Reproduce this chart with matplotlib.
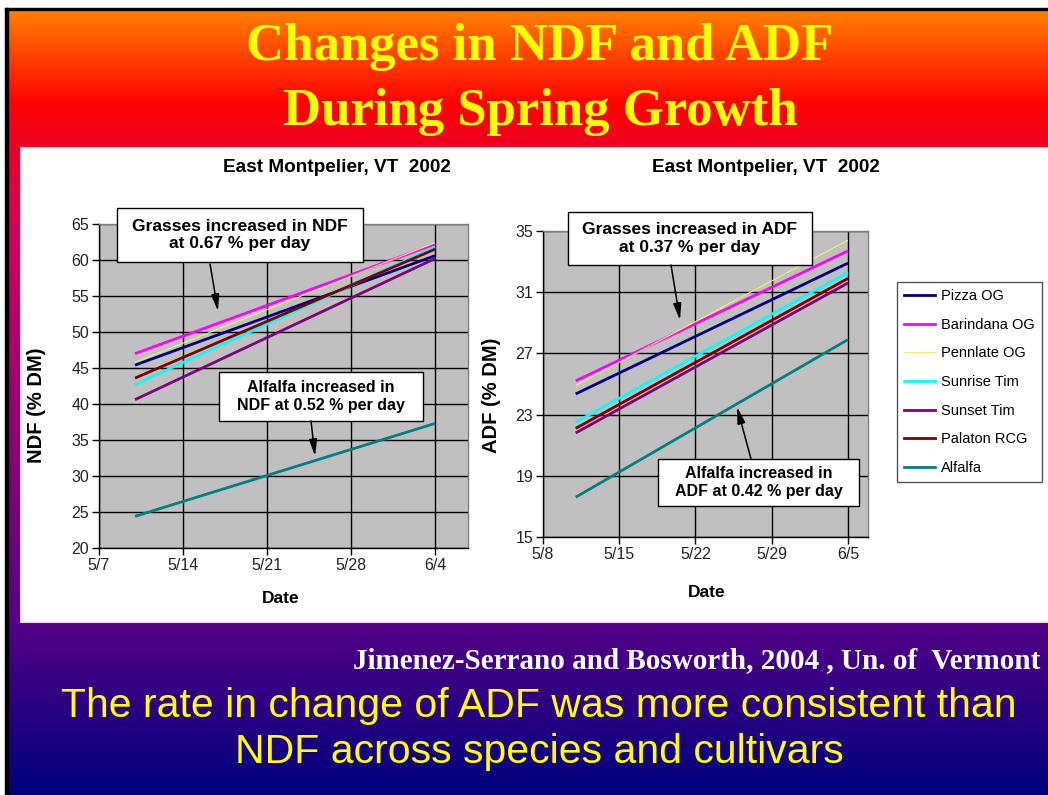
import datetime as dt

import numpy as np
import matplotlib
matplotlib.use("Agg")
import matplotlib.pyplot as plt
import matplotlib.dates as mdates
from matplotlib.patches import Rectangle
from matplotlib.lines import Line2D

# ---------------------------------------------------------------- data
series_names = ["Pizza OG", "Barindana OG", "Pennlate OG", "Sunrise Tim",
                "Sunset Tim", "Palaton RCG", "Alfalfa"]
series_colors = ["#000080", "#ff00ff", "#f2f266", "#00ffff",
                 "#800080", "#800000", "#008080"]
series_widths = [2.0, 2.0, 0.8, 2.0, 2.0, 2.0, 2.0]

# NDF (% DM), regression lines over the spring sampling period
ndf_dates = ["2002-05-10", "2002-06-04"]
ndf_start = [45.4, 47.0, 45.8, 42.7, 40.6, 43.6, 24.4]
ndf_end = [60.6, 62.2, 62.4, 61.8, 60.2, 61.5, 37.3]

# ADF (% DM)
adf_dates = ["2002-05-11", "2002-06-05"]
adf_start = [24.35, 25.2, 24.9, 22.5, 21.8, 22.1, 17.6]
adf_end = [32.9, 33.7, 34.4, 32.3, 31.6, 31.9, 27.9]

ndf_ticks = ["2002-05-07", "2002-05-14", "2002-05-21", "2002-05-28", "2002-06-04"]
ndf_tick_labels = ["5/7", "5/14", "5/21", "5/28", "6/4"]
adf_ticks = ["2002-05-08", "2002-05-15", "2002-05-22", "2002-05-29", "2002-06-05"]
adf_tick_labels = ["5/8", "5/15", "5/22", "5/29", "6/5"]
ndf_yticks = [20, 25, 30, 35, 40, 45, 50, 55, 60, 65]
adf_yticks = [15, 19, 23, 27, 31, 35]

# ---------------------------------------------------------------- helpers
W, H = 1048, 795
SANS = "Liberation Sans"
SERIF = "Liberation Serif"


def fx(x):
    return x / W


def fy(y):
    return 1 - y / H


def dnum(s):
    return mdates.date2num(dt.datetime.strptime(s, "%Y-%m-%d"))


fig = plt.figure(figsize=(W / 100, H / 100), dpi=100)

# ---------------------------------------------------------------- slide background
bg = fig.add_axes([0, 0, 1, 1], zorder=0)
stops_y = [10, 60, 100, 150, 240, 620, 795]
stops_c = [(255, 128, 0), (255, 60, 0), (255, 5, 0), (236, 0, 38),
           (205, 0, 95), (85, 0, 135), (0, 0, 125)]
ys = np.arange(10, 796)
grad = np.zeros((len(ys), 1, 3))
for c in range(3):
    grad[:, 0, c] = np.interp(ys, stops_y, [s[c] for s in stops_c]) / 255
bg.imshow(grad, extent=[8, W, 795, 10], aspect="auto", interpolation="bilinear")
bg.add_patch(Rectangle((5, 8), 3, 787, color="black"))
bg.add_patch(Rectangle((5, 8), W - 5, 2, color="black"))
bg.add_patch(Rectangle((20, 147), W - 20, 475, facecolor="white", edgecolor="#e8c8e8", lw=0.8))
bg.set_xlim(0, W)
bg.set_ylim(H, 0)
bg.axis("off")

fig.text(fx(540), fy(47), "Changes in NDF and ADF", ha="center", va="center",
         family=SERIF, weight="bold", fontsize=38, color="#ffff00")
fig.text(fx(540), fy(112), "During Spring Growth", ha="center", va="center",
         family=SERIF, weight="bold", fontsize=38, color="#ffff00")
fig.text(fx(1040), fy(661), "Jimenez-Serrano and Bosworth, 2004 , Un. of  Vermont",
         ha="right", va="center", family=SERIF, weight="bold", fontsize=21, color="white")
fig.text(fx(539), fy(706), "The rate in change of ADF was more consistent than",
         ha="center", va="center", family=SANS, fontsize=29.5, color="#ffff00")
fig.text(fx(539), fy(752), "NDF across species and cultivars",
         ha="center", va="center", family=SANS, fontsize=29.5, color="#ffff00")


# ---------------------------------------------------------------- charts
def style_chart(ax, ticks, tick_labels, yticks, xmin, xmax):
    ax.set_facecolor("#c0c0c0")
    ax.set_xlim(xmin, xmax)
    ax.set_ylim(yticks[0], yticks[-1])
    ax.set_xticks([dnum(t) for t in ticks])
    ax.set_xticklabels(tick_labels)
    ax.set_yticks(yticks)
    ax.grid(True, color="black", lw=1.0)
    ax.set_axisbelow(True)
    for side in ("top", "right"):
        ax.spines[side].set_color("#808080")
        ax.spines[side].set_linewidth(1.0)
    for side in ("left", "bottom"):
        ax.spines[side].set_color("black")
        ax.spines[side].set_linewidth(1.0)
    ax.tick_params(direction="out", length=5, width=1, pad=2,
                   labelsize=11.5, labelcolor="#222222")
    for lab in ax.get_xticklabels() + ax.get_yticklabels():
        lab.set_family(SANS)


ax1 = fig.add_axes([fx(99), fy(548), (468 - 99) / W, (548 - 224) / H], zorder=2)
ax2 = fig.add_axes([fx(543), fy(537), (868 - 543) / W, (537 - 231) / H], zorder=2)

for i, name in enumerate(series_names):
    ax1.plot([dnum(d) for d in ndf_dates], [ndf_start[i], ndf_end[i]],
             color=series_colors[i], lw=series_widths[i], solid_capstyle="butt")
    ax2.plot([dnum(d) for d in adf_dates], [adf_start[i], adf_end[i]],
             color=series_colors[i], lw=series_widths[i], solid_capstyle="butt")

style_chart(ax1, ndf_ticks, ndf_tick_labels, ndf_yticks,
            dnum("2002-05-07"), dnum("2002-05-07") + 30.75)
style_chart(ax2, adf_ticks, adf_tick_labels, adf_yticks,
            dnum("2002-05-08"), dnum("2002-05-08") + 29.84)

ylab_kw = dict(family=SANS, weight="bold", fontsize=14.5, color="black")
xlab_kw = dict(family=SANS, weight="bold", fontsize=12.5, color="black")
ax1.set_ylabel("NDF (% DM)", **ylab_kw)
ax1.yaxis.set_label_coords(-0.144, 0.44)
ax1.set_xlabel("Date", **xlab_kw)
ax1.xaxis.set_label_coords(0.493, -0.133)
ax2.set_ylabel("ADF (% DM)", **ylab_kw)
ax2.yaxis.set_label_coords(-0.129, 0.464)
ax2.set_xlabel("Date", **xlab_kw)
ax2.xaxis.set_label_coords(0.505, -0.157)

fig.text(fx(337), fy(168), "East Montpelier, VT  2002", ha="center", va="center",
         family=SANS, weight="bold", fontsize=13.7)
fig.text(fx(766), fy(168), "East Montpelier, VT  2002", ha="center", va="center",
         family=SANS, weight="bold", fontsize=13.7)

# ---------------------------------------------------------------- call-out boxes
ov = fig.add_axes([0, 0, 1, 1], zorder=5)
ov.set_xlim(0, W)
ov.set_ylim(H, 0)
ov.axis("off")
ov.patch.set_alpha(0)

callouts = [
    ((117, 208, 246, 54), "Grasses increased in NDF\nat 0.67 % per day", 12.5, (210, 264), (218, 311)),
    ((219, 372, 204, 49), "Alfalfa increased in\nNDF at 0.52 % per day", 11.5, (311, 421), (315, 456)),
    ((568, 212, 244, 53), "Grasses increased in ADF\nat 0.37 % per day", 12.5, (671, 265), (680, 320)),
    ((658, 459, 201, 47), "Alfalfa increased in\nADF at 0.42 % per day", 11.5, (751, 459), (737, 407)),
]
for (x, y, w, h), txt, size, p0, p1 in callouts:
    ov.add_patch(Rectangle((x, y), w, h, facecolor="white", edgecolor="black", lw=1.0))
    ov.text(x + w / 2, y + h / 2, txt, ha="center", va="center", linespacing=1.2,
            family=SANS, weight="bold", fontsize=size)
    ov.annotate("", xy=p1, xytext=p0,
                arrowprops=dict(arrowstyle="-|>,head_length=0.9,head_width=0.22",
                                color="black", lw=1.1, mutation_scale=11,
                                shrinkA=0, shrinkB=0))

# ---------------------------------------------------------------- legend
handles = [Line2D([], [], color=c, lw=lw) for c, lw in zip(series_colors, series_widths)]
leg = fig.legend(handles, series_names, loc="upper left",
                 bbox_to_anchor=(fx(897), fy(282)), borderaxespad=0,
                 prop=dict(family=SANS, size=10.5), handlelength=2.1,
                 handletextpad=0.4, labelspacing=1.0, borderpad=0.5,
                 fancybox=False, edgecolor="#555555", framealpha=1)
leg.get_frame().set_linewidth(1.0)

fig.savefig("out.png", dpi=100)
